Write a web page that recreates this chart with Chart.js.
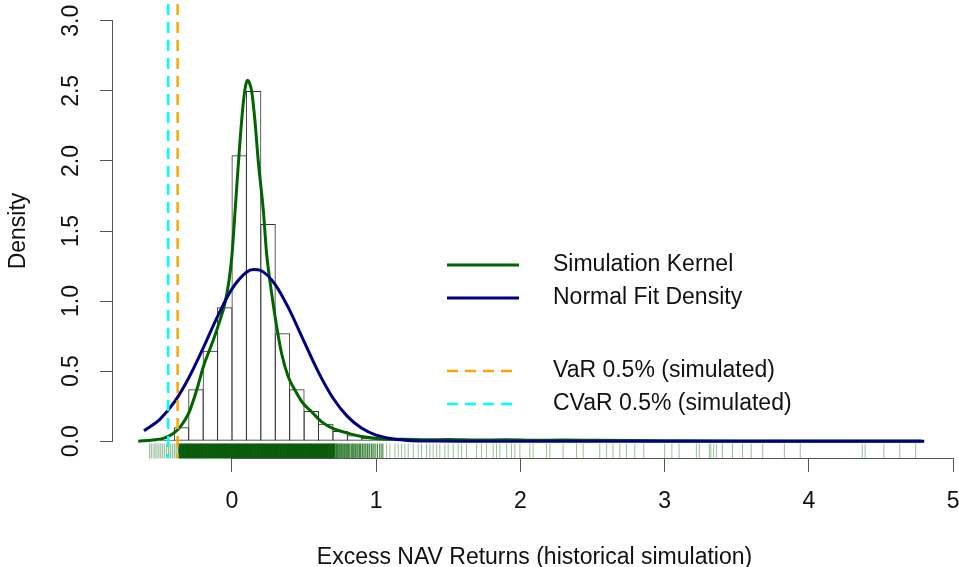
<!DOCTYPE html>
<html>
<head>
<meta charset="utf-8">
<script src="https://cdn.jsdelivr.net/npm/chart.js@4"></script>
<style>
  html, body { margin: 0; padding: 0; background: #ffffff; }
  #wrap { width: 959px; height: 567px; position: relative; }
</style>
</head>
<body>
<div id="wrap"><canvas id="chart"></canvas></div>
<script>
// ---- histogram of simulated excess NAV returns (density scale, bin width 0.1) ----
const binWidth = 0.1;
const histBreaks = [-0.5,-0.4,-0.3,-0.2,-0.1,0.0,0.1,0.2,0.3,0.4,0.5,0.6,0.7,0.8,0.9,1.0,1.1,
  1.2,1.3,1.4,1.5,1.6,1.7,1.8,1.9,2.0,2.1,2.2,2.3,2.4,2.5,2.6,2.7,2.8,2.9,3.0,3.1,3.2,3.3,
  3.4,3.5,3.6,3.7,3.8,3.9,4.0,4.1,4.2,4.3,4.4,4.5,4.6,4.7];
const histDensity = [0.01,0.10,0.37,0.645,0.955,2.04,2.50,1.55,0.77,0.37,0.215,0.125,0.073,0.043,0.025,0.013,0.01,
  0.008,0.007,0.006,0.005,0.004,0.004,0.004,0.003,0.003,0.002,0.002,0.002,0.002,0.002,0.002,0.002,0.001,0,
  0.001,0.001,0.001,0.002,0.001,0.001,0.001,0,0.001,0.001,0,0,0,0.001,0,0.001,0.001,0.001];

// ---- kernel density of the simulation ----
const kernelX = [-0.65,-0.55,-0.476,-0.407,-0.36,-0.30,-0.245,-0.199,-0.13,-0.083,-0.05,-0.02,0.0,0.02,0.04,0.06,0.08,0.095,0.108,0.12,0.136,0.159,0.182,0.217,0.24,0.275,0.31,0.344,0.39,0.437,0.494,0.552,0.622,0.702,0.795,0.91,1.05,1.2,1.35,1.5,1.7,1.9,2.1,2.3,2.5,2.8,3.1,3.5,4.0,4.5,4.78];
const kernelY = [0.0,0.008,0.02,0.055,0.10,0.20,0.364,0.53,0.72,0.864,0.98,1.15,1.33,1.62,1.92,2.2,2.43,2.54,2.575,2.56,2.5,2.29,2.0,1.65,1.34,1.055,0.816,0.626,0.46,0.364,0.269,0.21,0.138,0.09,0.06,0.031,0.016,0.014,0.01,0.012,0.008,0.01,0.007,0.008,0.006,0.004,0.003,0.002,0.001,0.001,0.001];

// ---- fitted normal density ----
const normalX = [-0.61,-0.5,-0.4,-0.3,-0.2,-0.1,0.0,0.1,0.15,0.2,0.3,0.4,0.5,0.6,0.7,0.8,0.9,1.0,1.1,1.2,1.3,1.4,1.6,2.0,3.0,4.0,4.8];
const normalY = [0.075,0.156,0.278,0.451,0.664,0.891,1.087,1.206,1.226,1.218,1.118,0.934,0.710,0.491,0.308,0.177,0.092,0.043,0.019,0.007,0.002,0.001,0,0,0,0,0];

// ---- risk levels ----
const varLevel = -0.377;
const cvarLevel = -0.442;

// ---- rug of simulated observations ----
const rugCore = [-0.36,-0.34,-0.32,-0.30,-0.28,-0.26,-0.24,-0.22,-0.20,-0.18,-0.16,-0.14,-0.12,-0.10,-0.08,-0.06,-0.04,-0.02,
  0.0,0.02,0.04,0.06,0.08,0.10,0.12,0.14,0.16,0.18,0.20,0.22,0.24,0.26,0.28,0.30,0.32,0.34,0.36,0.38,0.40,0.42,0.44,0.46,
  0.48,0.50,0.52,0.54,0.56,0.58,0.60,0.62,0.64,0.66,0.68,0.70];
const rugLeftEdge = [-0.57,-0.556,-0.54,-0.527,-0.512,-0.498,-0.484,-0.47,-0.455,-0.441,-0.428,-0.414,-0.4,-0.387,-0.374];
const rugRightEdge = [0.705,0.712,0.72,0.726,0.733,0.741,0.748,0.756,0.762,0.77,0.778,0.785,0.795,0.803,0.81,0.818,0.83,
  0.838,0.846,0.855,0.866,0.874,0.885,0.893,0.905,0.916,0.928,0.94,0.952,0.966,0.978,0.992,1.008,1.025,1.04];
const rugTail = [1.049,1.072,1.095,1.13,1.153,1.176,1.199,1.222,1.257,1.291,1.314,1.349,1.372,1.395,1.419,1.441,1.476,
  1.499,1.534,1.568,1.592,1.626,1.696,1.73,1.765,1.811,1.834,1.857,1.904,1.938,1.961,1.996,2.065,2.088,2.181,2.204,
  2.296,2.389,2.435,2.55,2.597,2.642,2.689,2.735,2.793,2.855,3.0,3.05,3.1,3.22,3.24,3.31,3.32,3.34,3.36,3.40,3.47,
  3.54,3.60,3.68,3.83,3.94,4.37,4.39,4.52,4.63,4.74];

// ---- axes ----
const xTickValues = [0, 1, 2, 3, 4, 5];
const yTickValues = [0, 0.5, 1, 1.5, 2, 2.5, 3];
const xRange = [-0.825, 5.02];
const yRange = [-0.12, 3.12];
const rugLevel = -0.07;

const legendItems = [
  { label: 'Simulation Kernel', color: '#006400', dash: [] },
  { label: 'Normal Fit Density', color: '#000080', dash: [] },
  null,
  { label: 'VaR 0.5% (simulated)', color: '#FFA500', dash: [11, 7] },
  { label: 'CVaR 0.5% (simulated)', color: '#00FFFF', dash: [11, 7] }
];

const FONT = "'Liberation Sans', Arial, Helvetica, sans-serif";
Chart.defaults.font.family = FONT;
Chart.defaults.font.size = 23;
Chart.defaults.color = '#111';

const toPoints = (xs, ys) => xs.map((x, i) => ({ x: x, y: ys[i] }));
const rugPoints = xs => xs.map(x => ({ x: x, y: rugLevel }));

function rugDataset(xs, color, width) {
  return {
    type: 'scatter', data: rugPoints(xs), order: 2, clip: false,
    pointStyle: 'line', pointRotation: 90, pointRadius: 7.5, pointHoverRadius: 7.5,
    pointBorderColor: color, pointBorderWidth: width, pointHoverBorderWidth: width,
    pointBackgroundColor: color
  };
}

function vlineDataset(level, color) {
  return {
    type: 'line', data: [{ x: level, y: yRange[1] }, { x: level, y: yRange[0] }],
    borderColor: color, borderWidth: 2.5, borderDash: [11, 7], borderCapStyle: 'butt',
    pointRadius: 0, fill: false, order: 1
  };
}

// axis lines span only the labelled tick range
const axisLines = {
  id: 'axisLines',
  afterDraw(chart) {
    const { ctx, chartArea, scales } = chart;
    ctx.save();
    ctx.strokeStyle = '#555';
    ctx.lineWidth = 1;
    ctx.beginPath();
    const yb = Math.round(chartArea.bottom) + 0.5;
    ctx.moveTo(scales.x.getPixelForValue(xTickValues[0]), yb);
    ctx.lineTo(scales.x.getPixelForValue(xTickValues[xTickValues.length - 1]), yb);
    const xl = Math.round(chartArea.left) - 0.5;
    ctx.moveTo(xl, scales.y.getPixelForValue(yTickValues[0]));
    ctx.lineTo(xl, scales.y.getPixelForValue(yTickValues[yTickValues.length - 1]));
    ctx.stroke();
    ctx.restore();
  }
};

// line legend placed inside the plot region
const lineLegend = {
  id: 'lineLegend',
  afterDraw(chart) {
    const { ctx, chartArea } = chart;
    const x0 = chartArea.left + 334, x1 = chartArea.left + 406, tx = chartArea.left + 440;
    const rowY = [265, 298, 331, 371, 404];
    ctx.save();
    ctx.font = '23px ' + FONT;
    ctx.textBaseline = 'middle';
    ctx.textAlign = 'left';
    legendItems.forEach((it, i) => {
      if (!it) return;
      const y = rowY[i];
      ctx.beginPath();
      ctx.strokeStyle = it.color;
      ctx.lineWidth = it.dash.length ? 2.5 : 3;
      ctx.setLineDash(it.dash);
      ctx.lineCap = 'butt';
      ctx.moveTo(x0, y);
      ctx.lineTo(x1, y);
      ctx.stroke();
      ctx.setLineDash([]);
      ctx.fillStyle = '#111';
      ctx.fillText(it.label, tx, y);
    });
    ctx.restore();
  }
};

function noEdgePadding(s) {
  s.paddingLeft = 0; s.paddingRight = 0; s.paddingTop = 0; s.paddingBottom = 0;
}

new Chart(document.getElementById('chart'), {
  type: 'bar',
  data: {
    datasets: [
      {
        type: 'bar',
        data: histDensity.map((d, i) => ({ x: histBreaks[i] + binWidth / 2, y: d })),
        backgroundColor: 'rgba(0,0,0,0)', borderColor: '#333', borderWidth: 1,
        borderSkipped: false, barPercentage: 1.069, categoryPercentage: 1, order: 5
      },
      {
        type: 'line', data: toPoints(kernelX, kernelY), borderColor: '#006400', borderWidth: 3,
        pointRadius: 0, cubicInterpolationMode: 'monotone', fill: false, order: 4
      },
      {
        type: 'line', data: toPoints(normalX, normalY), borderColor: '#000080', borderWidth: 3,
        pointRadius: 0, cubicInterpolationMode: 'monotone', fill: false, order: 3
      },
      rugDataset(rugCore, '#0a5c0a', 3.5),
      rugDataset(rugLeftEdge, 'rgba(0,100,0,0.5)', 1),
      rugDataset(rugRightEdge, 'rgba(0,95,0,0.75)', 1.3),
      rugDataset(rugTail, 'rgba(0,100,0,0.4)', 1),
      vlineDataset(varLevel, '#FFA500'),
      vlineDataset(cvarLevel, '#00FFFF')
    ]
  },
  options: {
    responsive: true,
    maintainAspectRatio: false,
    animation: false,
    events: [],
    layout: { autoPadding: false, padding: { top: 4, right: 3, left: 0, bottom: 0 } },
    plugins: { legend: { display: false }, tooltip: { enabled: false } },
    scales: {
      x: {
        type: 'linear', min: xRange[0], max: xRange[1], offset: false,
        afterBuildTicks: s => { s.ticks = xTickValues.map(v => ({ value: v })); },
        afterFit: s => { s.height = 109; noEdgePadding(s); },
        grid: { offset: false, drawOnChartArea: false, drawTicks: true, tickLength: 14, color: '#555', lineWidth: 1 },
        border: { display: false },
        ticks: { padding: 16, color: '#111', maxRotation: 0, autoSkip: false, callback: v => String(v) },
        title: { display: true, text: 'Excess NAV Returns (historical simulation)', color: '#111',
          font: { size: 23, lineHeight: 0.8 }, padding: { top: 0, bottom: 0 } }
      },
      y: {
        type: 'linear', min: yRange[0], max: yRange[1],
        afterBuildTicks: s => { s.ticks = yTickValues.map(v => ({ value: v })); },
        afterFit: s => { s.width = 113; noEdgePadding(s); },
        grid: { drawOnChartArea: false, drawTicks: true, tickLength: 13, color: '#555', lineWidth: 1 },
        border: { display: false },
        ticks: { minRotation: 90, maxRotation: 90, crossAlign: 'center', padding: 12, color: '#111',
          autoSkip: false, callback: v => Number(v).toFixed(1) },
        title: { display: true, text: 'Density', color: '#111', font: { size: 23 }, padding: { top: 5, bottom: 0 } }
      }
    }
  },
  plugins: [axisLines, lineLegend]
});
</script>
</body>
</html>
